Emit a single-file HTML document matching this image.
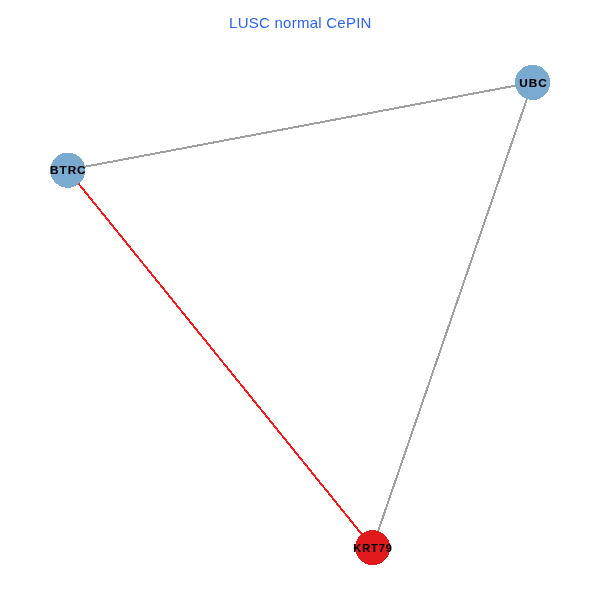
<!DOCTYPE html>
<html><head><meta charset="utf-8">
<style>
html,body{margin:0;padding:0;background:#fff;width:600px;height:600px;overflow:hidden}
svg{display:block;will-change:transform}
.t{font-family:"Liberation Sans",sans-serif}
</style></head><body>
<svg width="600" height="600" viewBox="0 0 600 600">
<rect width="600" height="600" fill="#fff"/>
<text class="t" x="300.4" y="27.9" text-anchor="middle" font-size="15" letter-spacing="0.25" fill="#2962f7">LUSC normal CePIN</text>
<g stroke-width="2" shape-rendering="crispEdges">
<line x1="67.5" y1="170" x2="532.6" y2="82.4" stroke="#a0a0a0"/>
<line x1="67.5" y1="170" x2="372.5" y2="547.5" stroke="#ff1a1a"/>
<line x1="532.6" y1="82.4" x2="372.5" y2="547.5" stroke="#a0a0a0"/>
</g>
<g shape-rendering="crispEdges">
<circle cx="67.8" cy="170.2" r="17.6" fill="#7baad1"/>
<circle cx="532.6" cy="82.4" r="17.6" fill="#7baad1"/>
<circle cx="372.6" cy="547.6" r="17.5" fill="#e31a1c"/>
</g>
<g class="t" font-weight="bold" font-size="11" text-anchor="middle" fill="#000" stroke="#000" stroke-width="0.12" letter-spacing="0.9">
<text transform="translate(68.3 173.8) scale(1.07 1)">BTRC</text>
<text transform="translate(533.5 87) scale(1.07 1)">UBC</text>
<text transform="translate(373 552) scale(1.0 1)">KRT79</text>
</g>
</svg>
</body></html>
